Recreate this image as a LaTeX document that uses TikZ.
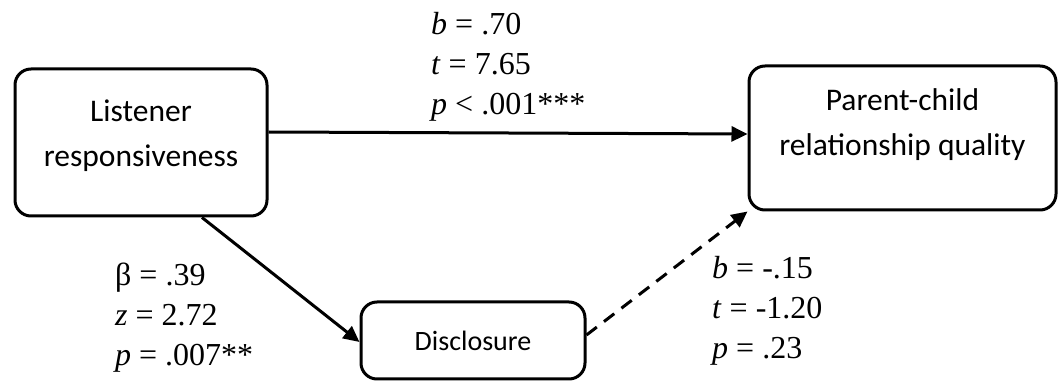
\documentclass[tikz,border=0pt]{standalone}
\usepackage{fontspec}
\setmainfont{Liberation Serif}
\newfontfamily\boxfont{Carlito}
\usetikzlibrary{arrows.meta}
\tikzset{
  varbox/.style={draw, line width=3pt, rounded corners=16pt, align=center,
    inner sep=0pt},
  boxtext/.style={align=center, font=\boxfont\fontsize{31.5}{45}\selectfont},
  stat/.style={anchor=west, align=left, inner sep=0pt,
    font=\fontsize{32}{40}\selectfont},
  path/.style={line width=3pt, -{Triangle[length=16pt,width=15pt]}},
  dashpath/.style={path, dash pattern=on 13pt off 9pt},
}
\begin{document}
\begin{tikzpicture}[x=1pt,y=-1pt]
\useasboundingbox (0,0) rectangle (1058,387);
\node[varbox, minimum width=252pt, minimum height=147pt] (lr) at (141,142.5) {};
\node[boxtext] (lrt) at (141,136) {Listener\\responsiveness};
\node[varbox, minimum width=307pt, minimum height=144pt] (pc) at (902.5,138) {};
\node[boxtext] (pct) at (902.5,125) {Parent-child\\relationship quality};
\node[varbox, minimum width=224pt, minimum height=77pt,
  font=\boxfont\fontsize{28}{32}\selectfont] (dc) at (473,340.5) {Disclosure};
\draw[path] (lr.east |- 0,132) -- (pc.west |- 0,134);
\draw[path] (lr.south -| 202,0) -- (dc.west |- 0,342);
\draw[dashpath] (dc.east |- 0,335) -- (pc.south west);
\node[stat] (s1) at (431,67) {\textit{b} = .70\\\textit{t} = 7.65\\\textit{p} < .001***};
\node[stat] (s2) at (115,318) {β = .39\\\textit{z} = 2.72\\\textit{p} = .007**};
\node[stat] (s3) at (712,311) {\textit{b} = -.15\\\textit{t} = -1.20\\\textit{p} = .23};
\end{tikzpicture}
\end{document}
